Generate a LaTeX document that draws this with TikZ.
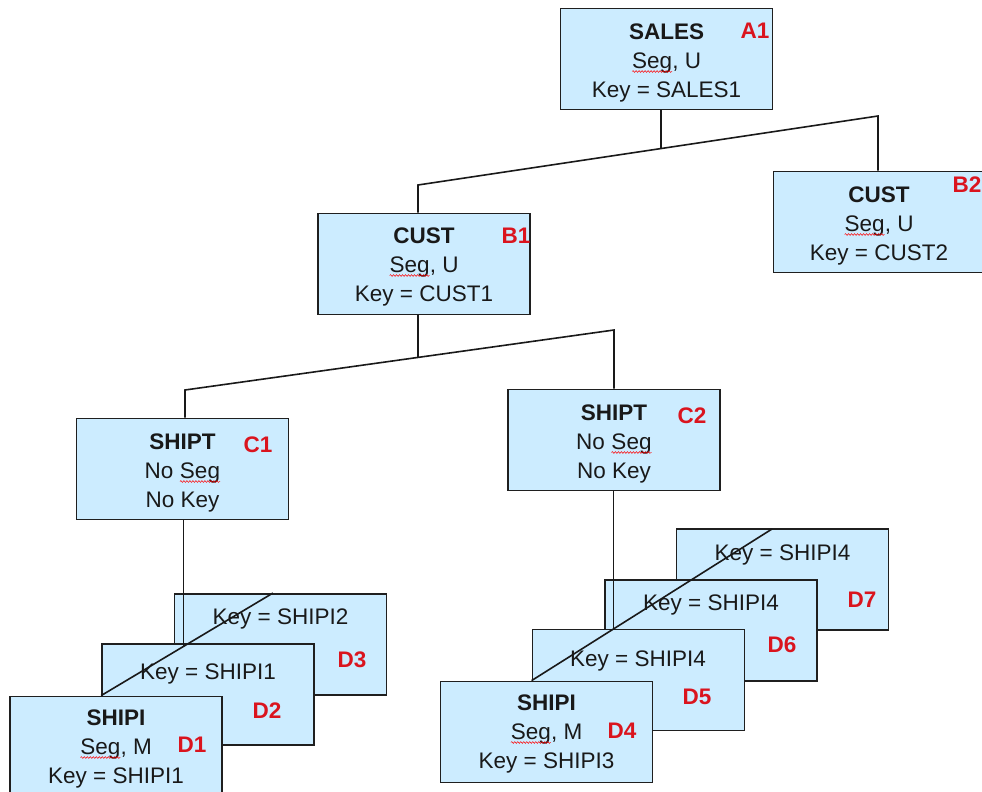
\documentclass[tikz,border=0pt]{standalone}
\usepackage{fontspec}
\setmainfont{Liberation Sans}
\usetikzlibrary{calc,decorations.pathmorphing}
\definecolor{boxfill}{RGB}{204,236,255}
\definecolor{labred}{RGB}{218,20,30}
\newcommand\spl[1]{\tikz[baseline=(w.base)]{\node[inner sep=0pt,outer sep=0pt,anchor=base](w) at (0,0){#1};\draw[red,line width=0.5pt,decorate,decoration={snake,amplitude=0.9pt,segment length=3pt}]([yshift=-3.5pt]w.base west)--([yshift=-3.5pt]w.base east);}}
\begin{document}
\begin{tikzpicture}[x=1pt,y=-1pt,
  box/.style={draw=black!88, line width=1.8pt, fill=boxfill, minimum width=212pt, minimum height=101pt, inner sep=0pt},
  txt/.style={font=\fontsize{22.5}{29}\selectfont, align=center, anchor=base, inner sep=0pt, text=black!90},
  lab/.style={font=\fontsize{22.5}{26}\selectfont\bfseries, text=labred, anchor=base, inner sep=0pt},
  conn/.style={line width=1.6pt, draw=black!90}]
\useasboundingbox (0,0) rectangle (982,792);

% boxes
\node[box] (A1) at (666.5,59) {};
\node[box] (B2) at (879.5,222) {};
\node[box] (B1) at (424,264) {};
\node[box] (C1) at (182.5,469) {};
\node[box] (C2) at (614,440) {};
\node[box] (D7) at (782.5,579.5) {};
\node[box] (D6) at (711,630.5) {};
\node[box] (D5) at (638.5,680) {};
\node[box] (D4) at (546.5,732) {};
\node[box] (D3) at (280.5,644.5) {};
\node[box] (D2) at (208,694.5) {};
\node[box] (D1) at (116,747) {};

% texts (base = last line)
\node[txt] (A1t) at (666.5,97) {\textbf{SALES}\\\spl{Seg}, U\\Key = SALES1};
\node[txt] (B2t) at (879,260) {\textbf{CUST}\\\spl{Seg}, U\\Key = CUST2};
\node[txt] (B1t) at (424,301) {\textbf{CUST}\\\spl{Seg}, U\\Key = CUST1};
\node[txt] (C1t) at (182.5,507) {\textbf{SHIPT}\\No \spl{Seg}\\No Key};
\node[txt] (C2t) at (614,478) {\textbf{SHIPT}\\No \spl{Seg}\\No Key};
\node[txt] (D7t) at (782.5,560) {Key = SHIPI4};
\node[txt] (D6t) at (711,610) {Key = SHIPI4};
\node[txt] (D5t) at (638,666) {Key = SHIPI4};
\node[txt] (D4t) at (546.5,768) {\textbf{SHIPI}\\\spl{Seg}, M\\Key = SHIPI3};
\node[txt] (D3t) at (280.5,624) {Key = SHIPI2};
\node[txt] (D2t) at (208,679) {Key = SHIPI1};
\node[txt] (D1t) at (116,783) {\textbf{SHIPI}\\\spl{Seg}, M\\Key = SHIPI1};

% red labels
\node[lab] (A1l) at (755,39) {A1};
\node[lab] (B2l) at (967,192) {B2};
\node[lab] (B1l) at (516,243) {B1};
\node[lab] (C1l) at (258,452) {C1};
\node[lab] (C2l) at (692,423) {C2};
\node[lab] (D7l) at (862,607) {D7};
\node[lab] (D6l) at (782,652) {D6};
\node[lab] (D5l) at (697,704) {D5};
\node[lab] (D4l) at (622,738) {D4};
\node[lab] (D3l) at (352,667) {D3};
\node[lab] (D2l) at (267,718) {D2};
\node[lab] (D1l) at (192,752) {D1};

% connectors
\coordinate (j1) at (418,185);
\coordinate (j2) at (878,116);
\coordinate (ja) at ($(j1)!0.5283!(j2)$);
\draw[conn] (j1 |- B1.north) -- (j1) -- (j2) -- (j2 |- B2.north);
\draw[conn] (ja |- A1.south) -- (ja);

\coordinate (k1) at (185,390);
\coordinate (k2) at (614,330);
\coordinate (kb) at ($(k1)!0.5431!(k2)$);
\draw[conn] (k1 |- C1.north) -- (k1) -- (k2) -- (k2 |- C2.north);
\draw[conn] (kb |- B1.south) -- (kb);

\coordinate (l1) at (D2.west |- D1.north);
\coordinate (l2) at (273,593);
\coordinate (lc) at ($(l1)!0.4795!(l2)$);
\draw[conn] (l1) -- (l2);
\draw[conn] (lc |- C1.south) -- (lc);

\coordinate (m1) at (D5.west |- D4.north);
\coordinate (m2) at (772,529);
\coordinate (mc) at ($(m1)!0.3403!(m2)$);
\draw[conn] (m1) -- (m2);
\draw[conn] (mc |- C2.south) -- (mc);
\end{tikzpicture}
\end{document}
